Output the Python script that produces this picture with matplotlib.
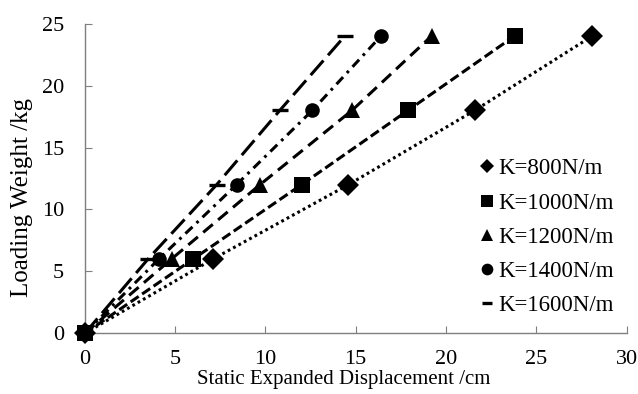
import matplotlib
matplotlib.use('Agg')
import matplotlib.pyplot as plt
from matplotlib.lines import Line2D

plt.rcParams['font.family'] = ['Liberation Serif', 'DejaVu Serif']
plt.rcParams['lines.scale_dashes'] = False

weight = [0, 6, 12, 18, 24]
disp_800 = [0, 7.1, 14.6, 21.6, 28.1]
disp_1000 = [0, 6.0, 12.0, 17.9, 23.8]
disp_1200 = [0, 4.8, 9.7, 14.8, 19.2]
disp_1400 = [0, 4.1, 8.4, 12.6, 16.4]
disp_1600 = [0, 3.5, 7.3, 10.8, 14.4]
labels = ['K=800N/m', 'K=1000N/m', 'K=1200N/m', 'K=1400N/m', 'K=1600N/m']

# x values, marker, marker size (plot / legend), dash pattern
series = [
    (disp_800, 'D', 11, 7.2, (0, (2, 2.4))),
    (disp_1000, 's', 12, 8.0, (0, (7, 3))),
    (disp_1200, '^', 12, 8.6, (0, (9, 5))),
    (disp_1400, 'o', 10.5, 8.4, (0, (7, 4, 2, 4))),
    (disp_1600, '_', 12, 7.4, (0, (14, 5))),
]

fig = plt.figure(figsize=(6.38, 3.94), dpi=100)
ax = fig.add_axes([0.133, 0.154, 0.849, 0.786])

for (xs, mk, ms, _, ls), lab in zip(series, labels):
    ax.plot(xs, weight, color='black', lw=2.2, linestyle=ls, marker=mk,
            markersize=ms, markeredgewidth=2.4 if mk == '_' else 0,
            markeredgecolor='black', clip_on=False, zorder=3)

handles = [Line2D([], [], linestyle='none', marker=mk, color='black',
                  markersize=lms, markeredgewidth=2.4 if mk == '_' else 0)
           for (_, mk, _, lms, _) in series]
ax.legend(handles, labels, loc='upper left', bbox_to_anchor=(0.7536, 0.598),
          bbox_transform=fig.transFigure, frameon=False, fontsize=16.5,
          handlelength=0.5, handletextpad=0.25, labelspacing=0.57,
          borderpad=0, borderaxespad=0)

ax.set_xlim(0, 30)
ax.set_ylim(0, 25)
ax.set_xticks(range(0, 31, 5))
ax.set_yticks(range(0, 26, 5))
ax.tick_params(direction='in', length=5, color='#7f7f7f', labelsize=16)
ax.tick_params(axis='x', pad=12)
ax.tick_params(axis='y', pad=15)
for side in ['top', 'right']:
    ax.spines[side].set_visible(False)
for side in ['left', 'bottom']:
    ax.spines[side].set_color('#7f7f7f')
    ax.spines[side].set_linewidth(1.0)

ax.set_xlabel('Static Expanded Displacement /cm', fontsize=15)
ax.xaxis.set_label_coords(0.477, -0.1186)
ax.set_ylabel('Loading Weight /kg', fontsize=18)
ax.yaxis.set_label_coords(-0.095, 0.439)

fig.savefig('out.png', dpi=100)
